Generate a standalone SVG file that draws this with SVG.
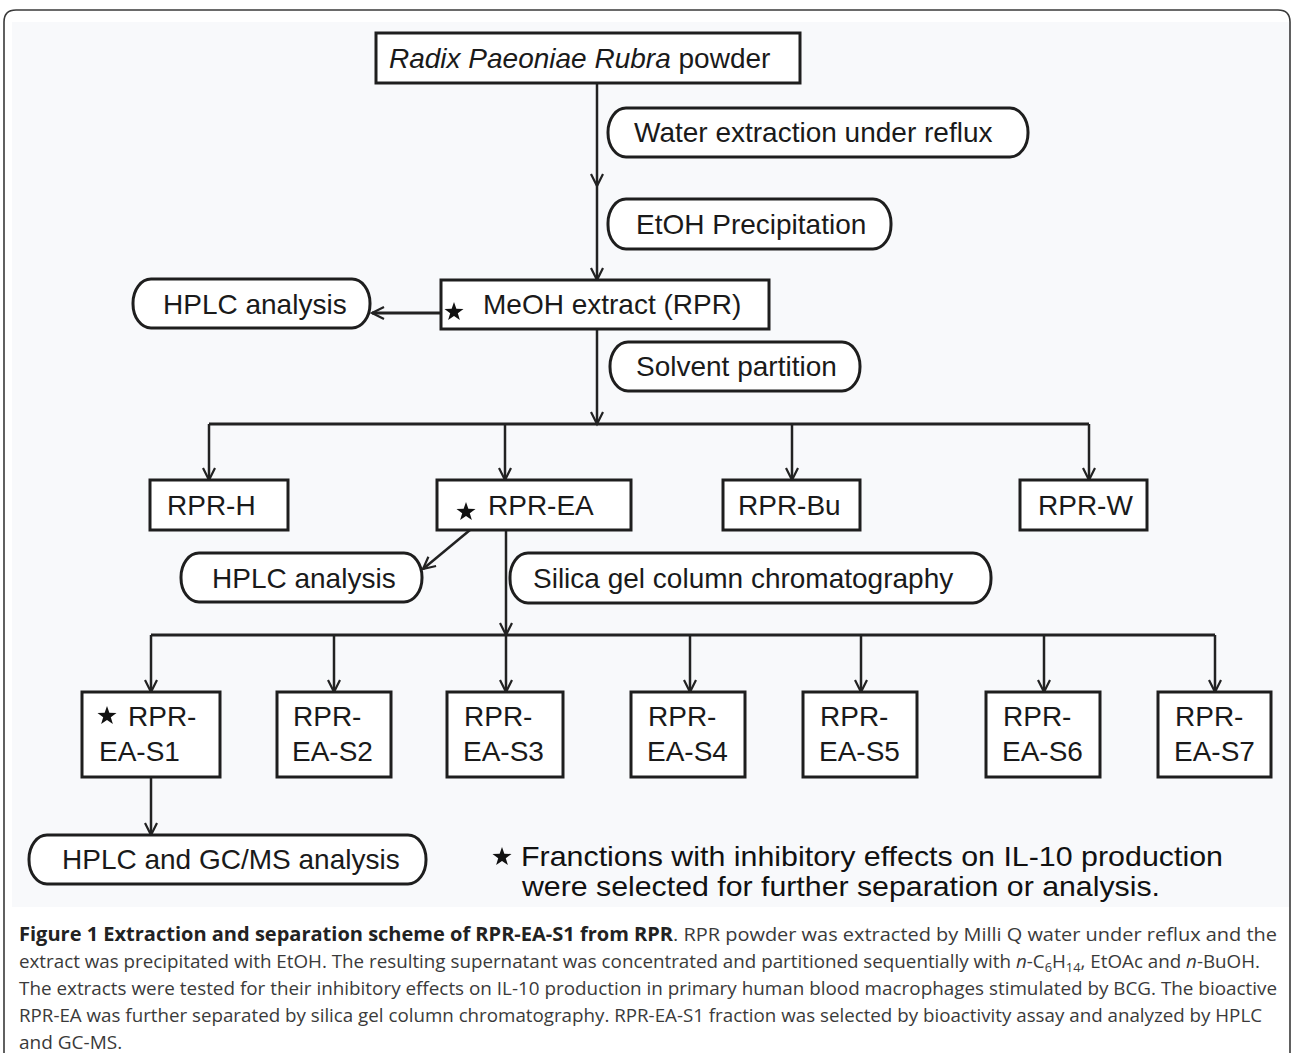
<svg xmlns="http://www.w3.org/2000/svg" xmlns:xlink="http://www.w3.org/1999/xlink" width="1292" height="1053" viewBox="0 0 1292 1053">
  <style>
    .box { fill: #ffffff; stroke: #1e1e1e; stroke-width: 3; }
    .pill { fill: #ffffff; stroke: #1e1e1e; stroke-width: 3; }
    .lbl { font-family: "Liberation Sans", Arial, sans-serif; font-size: 28px; fill: #1a1a1a; }
    .legend { font-family: "Liberation Sans", Arial, sans-serif; font-size: 28px; fill: #111111; }
    .conn { fill: none; stroke: #222222; stroke-width: 2.5; }
    .arr { marker-end: url(#ah); }
    .cap { font-family: "Open Sans", "Liberation Sans", sans-serif; font-size: 19px; fill: #3a3a3a; }
    .capb { font-family: "Open Sans", "Liberation Sans", sans-serif; font-size: 19px; font-weight: bold; fill: #222222; }
    .star { fill: #111111; }
  </style>
  <defs>
    <marker id="ah" markerUnits="userSpaceOnUse" markerWidth="16" markerHeight="16" viewBox="0 0 16 16" refX="13" refY="8" orient="auto">
      <path d="M1,2 L13,8 L1,14" fill="none" stroke="#222222" stroke-width="2.2"/>
    </marker>
    <polygon id="star" points="0,-10 2.35,-3.24 9.51,-3.09 3.8,1.24 5.88,8.09 0,4 -5.88,8.09 -3.8,1.24 -9.51,-3.09 -2.35,-3.24"/>
  </defs>

  <rect x="0" y="0" width="1292" height="1053" fill="#ffffff"/>
  <rect x="12" y="22" width="1278" height="885" fill="#f8f9fb"/>
  <path d="M4,1060 V22 Q4,10 16,10 H1278 Q1290,10 1290,22 V1060" fill="none" stroke="#3a3a3a" stroke-width="1.6"/>

  <g id="connectors">
    <line class="conn arr" x1="597" y1="83" x2="597" y2="186"/>
    <line class="conn arr" x1="597" y1="186" x2="597" y2="280"/>
    <line class="conn arr" x1="441" y1="313" x2="372" y2="313" style="stroke-width:3"/>
    <line class="conn arr" x1="597" y1="329" x2="597" y2="424"/>
    <line class="conn" x1="209" y1="424" x2="1089" y2="424" style="stroke-width:3"/>
    <line class="conn arr" x1="209" y1="424" x2="209" y2="480"/>
    <line class="conn arr" x1="505" y1="424" x2="505" y2="480"/>
    <line class="conn arr" x1="792" y1="424" x2="792" y2="480"/>
    <line class="conn arr" x1="1089" y1="424" x2="1089" y2="480"/>
    <line class="conn arr" x1="470" y1="530" x2="423" y2="569"/>
    <line class="conn arr" x1="506" y1="530" x2="506" y2="635"/>
    <line class="conn" x1="151" y1="635" x2="1215" y2="635" style="stroke-width:3"/>
    <line class="conn arr" x1="151" y1="635" x2="151" y2="692"/>
    <line class="conn arr" x1="334" y1="635" x2="334" y2="692"/>
    <line class="conn arr" x1="506" y1="635" x2="506" y2="692"/>
    <line class="conn arr" x1="690" y1="635" x2="690" y2="692"/>
    <line class="conn arr" x1="861" y1="635" x2="861" y2="692"/>
    <line class="conn arr" x1="1044" y1="635" x2="1044" y2="692"/>
    <line class="conn arr" x1="1215" y1="635" x2="1215" y2="692"/>
    <line class="conn arr" x1="151" y1="777" x2="151" y2="835"/>
  </g>

  <g id="n-powder">
    <rect class="box" x="376" y="33" width="424" height="50"/>
    <text class="lbl" x="389" y="68"><tspan font-style="italic">Radix Paeoniae Rubra</tspan> powder</text>
  </g>
  <g id="n-water">
    <rect class="pill" x="608" y="108" width="420" height="49" rx="18" ry="24"/>
    <text class="lbl" x="634" y="142">Water extraction under reflux</text>
  </g>
  <g id="n-etoh">
    <rect class="pill" x="608" y="199" width="283" height="50" rx="18" ry="24"/>
    <text class="lbl" x="636" y="234">EtOH Precipitation</text>
  </g>
  <g id="n-meoh">
    <rect class="box" x="441" y="280" width="328" height="49"/>
    <use href="#star" xlink:href="#star" class="star" x="454" y="312"/>
    <text class="lbl" x="483" y="314">MeOH extract (RPR)</text>
  </g>
  <g id="n-hplc1">
    <rect class="pill" x="133" y="279" width="237" height="49" rx="18" ry="24"/>
    <text class="lbl" x="163" y="314">HPLC analysis</text>
  </g>
  <g id="n-solvent">
    <rect class="pill" x="610" y="342" width="250" height="49" rx="18" ry="24"/>
    <text class="lbl" x="636" y="376">Solvent partition</text>
  </g>
  <g id="n-rprh">
    <rect class="box" x="150" y="480" width="138" height="50"/>
    <text class="lbl" x="167" y="515">RPR-H</text>
  </g>
  <g id="n-rprea">
    <rect class="box" x="437" y="480" width="194" height="50"/>
    <use href="#star" xlink:href="#star" class="star" x="466" y="512"/>
    <text class="lbl" x="488" y="515">RPR-EA</text>
  </g>
  <g id="n-rprbu">
    <rect class="box" x="723" y="480" width="137" height="50"/>
    <text class="lbl" x="738" y="515">RPR-Bu</text>
  </g>
  <g id="n-rprw">
    <rect class="box" x="1020" y="480" width="127" height="50"/>
    <text class="lbl" x="1038" y="515">RPR-W</text>
  </g>
  <g id="n-hplc2">
    <rect class="pill" x="181" y="553" width="241" height="49" rx="18" ry="24"/>
    <text class="lbl" x="212" y="588">HPLC analysis</text>
  </g>
  <g id="n-silica">
    <rect class="pill" x="510" y="553" width="481" height="50" rx="18" ry="24"/>
    <text class="lbl" x="533" y="588">Silica gel column chromatography</text>
  </g>

  <g id="n-s1">
    <rect class="box" x="82" y="692" width="138" height="85"/>
    <use href="#star" xlink:href="#star" class="star" x="107" y="716"/>
    <text class="lbl" x="128" y="726">RPR-</text>
    <text class="lbl" x="99" y="761">EA-S1</text>
  </g>
  <g id="n-s2">
    <rect class="box" x="277" y="692" width="114" height="85"/>
    <text class="lbl" x="293" y="726">RPR-</text>
    <text class="lbl" x="292" y="761">EA-S2</text>
  </g>
  <g id="n-s3">
    <rect class="box" x="447" y="692" width="116" height="85"/>
    <text class="lbl" x="464" y="726">RPR-</text>
    <text class="lbl" x="463" y="761">EA-S3</text>
  </g>
  <g id="n-s4">
    <rect class="box" x="631" y="692" width="114" height="85"/>
    <text class="lbl" x="648" y="726">RPR-</text>
    <text class="lbl" x="647" y="761">EA-S4</text>
  </g>
  <g id="n-s5">
    <rect class="box" x="803" y="692" width="114" height="85"/>
    <text class="lbl" x="820" y="726">RPR-</text>
    <text class="lbl" x="819" y="761">EA-S5</text>
  </g>
  <g id="n-s6">
    <rect class="box" x="986" y="692" width="114" height="85"/>
    <text class="lbl" x="1003" y="726">RPR-</text>
    <text class="lbl" x="1002" y="761">EA-S6</text>
  </g>
  <g id="n-s7">
    <rect class="box" x="1158" y="692" width="113" height="85"/>
    <text class="lbl" x="1175" y="726">RPR-</text>
    <text class="lbl" x="1174" y="761">EA-S7</text>
  </g>
  <g id="n-gcms">
    <rect class="pill" x="29" y="835" width="397" height="49" rx="18" ry="24"/>
    <text class="lbl" x="62" y="869">HPLC and GC/MS analysis</text>
  </g>

  <g id="legend">
    <use href="#star" xlink:href="#star" class="star" x="502" y="857"/>
    <text class="legend" x="521" y="866" textLength="702" lengthAdjust="spacingAndGlyphs">Franctions with inhibitory effects on IL-10 production</text>
    <text class="legend" x="522" y="896" textLength="638" lengthAdjust="spacingAndGlyphs">were selected for further separation or analysis.</text>
  </g>

  <g id="caption">
    <text class="capb" x="19" y="941" textLength="654" lengthAdjust="spacingAndGlyphs">Figure 1 Extraction and separation scheme of RPR-EA-S1 from RPR</text>
    <text class="cap" x="673" y="941" textLength="604" lengthAdjust="spacingAndGlyphs">. RPR powder was extracted by Milli Q water under reflux and the</text>
    <text class="cap" x="19" y="968" textLength="1241" lengthAdjust="spacingAndGlyphs">extract was precipitated with EtOH. The resulting supernatant was concentrated and partitioned sequentially with <tspan font-style="italic">n</tspan>-C<tspan font-size="13" dy="4">6</tspan><tspan dy="-4">H</tspan><tspan font-size="13" dy="4">14</tspan><tspan dy="-4">, EtOAc and </tspan><tspan font-style="italic">n</tspan>-BuOH.</text>
    <text class="cap" x="19" y="995" textLength="1258" lengthAdjust="spacingAndGlyphs">The extracts were tested for their inhibitory effects on IL-10 production in primary human blood macrophages stimulated by BCG. The bioactive</text>
    <text class="cap" x="19" y="1022" textLength="1243" lengthAdjust="spacingAndGlyphs">RPR-EA was further separated by silica gel column chromatography. RPR-EA-S1 fraction was selected by bioactivity assay and analyzed by HPLC</text>
    <text class="cap" x="19" y="1049">and GC-MS.</text>
  </g>
</svg>
